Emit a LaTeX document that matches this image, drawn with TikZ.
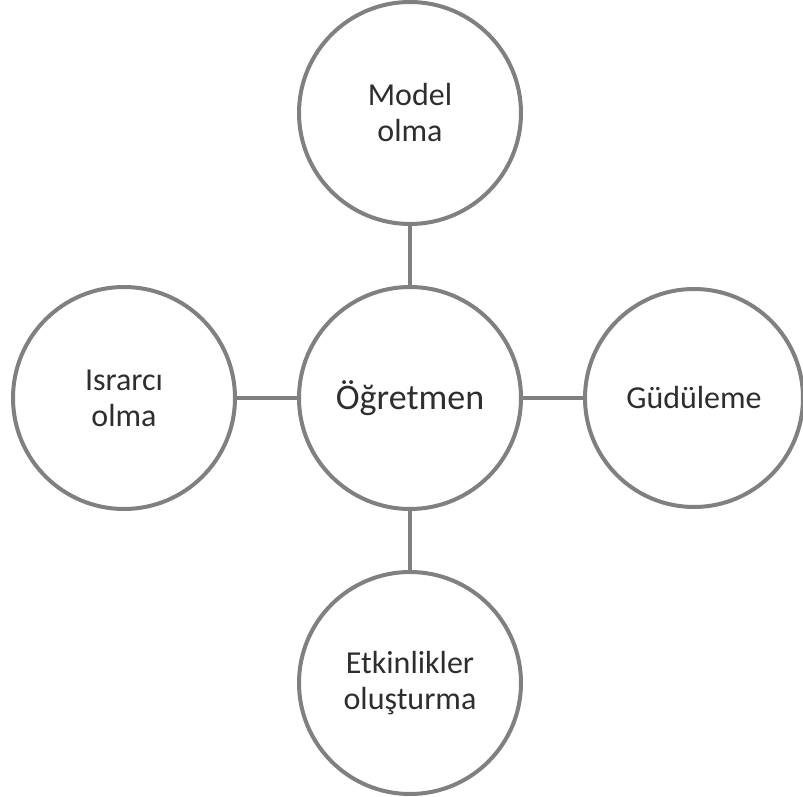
\documentclass[tikz,border=0pt]{standalone}
\usepackage{fontspec}
\setmainfont{Carlito}
\definecolor{ringgray}{HTML}{808080}
\definecolor{txt}{HTML}{2E2E2E}
\begin{document}
\begin{tikzpicture}[x=1pt,y=1pt,
  bubble/.style={circle, draw=ringgray, line width=4pt, fill=white, minimum size=222pt, inner sep=0pt,
    align=center, text=txt, font=\fontsize{32}{36}\selectfont},
  hub/.style={bubble, font=\fontsize{36}{40}\selectfont},
  link/.style={draw=ringgray, line width=4pt}]
\useasboundingbox (0,0) rectangle (803,796);
\node[hub]    (c) at (410,398) {Öğretmen};
\node[bubble] (t) at (410,683) {Model\\olma};
\node[bubble] (l) at (124,398) {Israrcı\\olma};
\node[bubble, minimum size=218pt] (r) at (694,398) {Güdüleme};
\node[bubble] (b) at (410,113) {Etkinlikler\\oluşturma};
\draw[link] (t) -- (c);
\draw[link] (l) -- (c);
\draw[link] (c) -- (r);
\draw[link] (c) -- (b);
\end{tikzpicture}
\end{document}
